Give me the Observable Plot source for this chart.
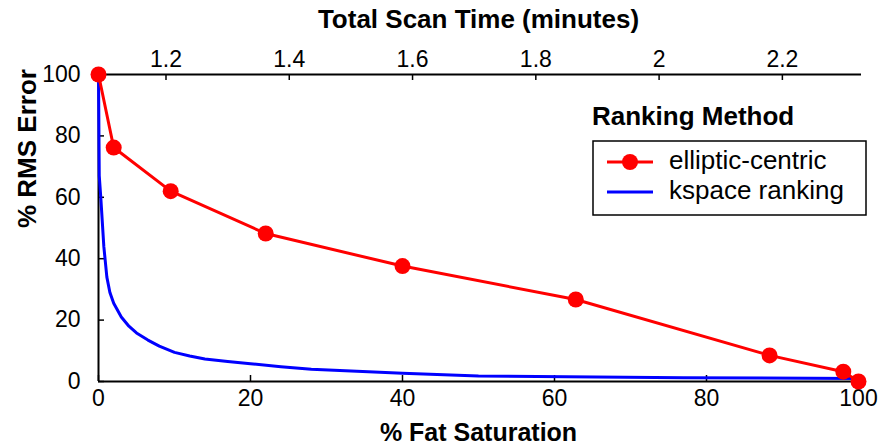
<!DOCTYPE html>
<html>
<head>
<meta charset="utf-8">
<script src="https://cdn.jsdelivr.net/npm/d3@7"></script>
<script src="https://cdn.jsdelivr.net/npm/@observablehq/plot@0.6"></script>
<style>
  html, body { margin: 0; padding: 0; background: #fff; }
  #wrap { position: relative; width: 885px; height: 448px; font-family: "Liberation Sans", Arial, sans-serif; }
  #legend { position: absolute; left: 0; top: 0; pointer-events: none; }
</style>
</head>
<body>
<div id="wrap"><div id="chart"></div><svg id="legend" width="885" height="448"></svg></div>
<script>
// ---- data ----
const ellipticX = [0, 2, 9.5, 22, 40, 62.8, 88.3, 98, 100];
const ellipticY = [100, 76.2, 62, 48.2, 37.6, 26.7, 8.5, 3.2, 0];

const kspaceX = [0, 0.1, 0.3, 0.5, 0.7, 1.1, 1.5, 2, 3, 4, 5, 6.5, 8, 10, 12, 14, 17, 20, 24, 28, 34, 40, 50, 77, 100];
const kspaceY = [100, 67, 60, 52, 44, 34, 29, 25.5, 21, 18, 15.8, 13.5, 11.5, 9.5, 8.3, 7.3, 6.5, 5.8, 4.8, 4.0, 3.3, 2.7, 1.8, 1.2, 1.0];

const xTicks = [0, 20, 40, 60, 80, 100];
const yTicks = [0, 20, 40, 60, 80, 100];
const topTicks = [1.2, 1.4, 1.6, 1.8, 2, 2.2];
const topDomain = [1.0905, 2.3235];

const seriesNames = ["elliptic-centric", "kspace ranking"];
const seriesColors = ["#ff0000", "#0000ff"];
const legendTitle = "Ranking Method";
const xLabel = "% Fat Saturation";
const yLabel = "% RMS Error";
const topLabel = "Total Scan Time (minutes)";

// ---- build ----
const elliptic = ellipticX.map((x, i) => ({x, y: ellipticY[i]}));
const kspace = kspaceX.map((x, i) => ({x, y: kspaceY[i]}));
const timeToFat = d3.scaleLinear().domain(topDomain).range([0, 100]);
const topTickPos = topTicks.map(t => timeToFat(t));

const W = 885, H = 448, mT = 74, mB = 67, mL = 98, mR = 27;
const plotW = W - mL - mR, plotH = H - mT - mB;
const tickLen = 6;
const font = "Liberation Sans, Arial, sans-serif";

const chart = Plot.plot({
  width: W, height: H,
  marginTop: mT, marginBottom: mB, marginLeft: mL, marginRight: mR,
  style: {fontFamily: font, background: "#fff", color: "#000"},
  x: {domain: [0, 100]},
  y: {domain: [0, 100]},
  marks: [
    // axis tick labels
    Plot.axisX(xTicks, {anchor: "bottom", tickSize: 0, tickPadding: 8, fontSize: 23, label: null, tickFormat: d => String(d)}),
    Plot.axisY(yTicks, {anchor: "left", tickSize: 0, tickPadding: 18, fontSize: 23, label: null, tickFormat: d => String(d)}),
    Plot.axisX(topTickPos, {anchor: "top", tickSize: 0, tickPadding: 8, fontSize: 23, label: null,
      tickFormat: (d, i) => String(topTicks[i])}),
    // inward ticks
    Plot.ruleX(xTicks, {x: d => d, insetTop: plotH - tickLen, stroke: "#000", strokeWidth: 1.5}),
    Plot.ruleY(yTicks, {y: d => d, insetRight: plotW - tickLen, stroke: "#000", strokeWidth: 1.5}),
    Plot.ruleX(topTickPos, {x: d => d, insetBottom: plotH - tickLen, stroke: "#000", strokeWidth: 1.5}),
    // axis lines
    Plot.ruleY([0], {stroke: "#000", strokeWidth: 2}),
    Plot.ruleY([100], {stroke: "#000", strokeWidth: 2, insetRight: -3}),
    Plot.ruleX([0], {stroke: "#000", strokeWidth: 2}),
    // titles
    Plot.text([topLabel], {frameAnchor: "top", dy: -55, text: d => d, fontSize: 26, fontWeight: "bold", lineAnchor: "middle", fill: "#000"}),
    Plot.text([xLabel], {frameAnchor: "bottom", dy: 51, text: d => d, fontSize: 25, fontWeight: "bold", lineAnchor: "middle", fill: "#000"}),
    Plot.text([yLabel], {frameAnchor: "left", dx: -71, rotate: -90, text: d => d, fontSize: 26, fontWeight: "bold", lineAnchor: "middle", fill: "#000"}),
    // data
    Plot.line(kspace, {x: "x", y: "y", stroke: seriesColors[1], strokeWidth: 3}),
    Plot.line(elliptic, {x: "x", y: "y", stroke: seriesColors[0], strokeWidth: 3}),
    Plot.dot(elliptic, {x: "x", y: "y", r: 8, fill: seriesColors[0], stroke: "none"})
  ]
});
document.getElementById("chart").appendChild(chart);

// ---- legend ----
const lg = d3.select("#legend");
lg.append("text").attr("x", 592).attr("y", 118).attr("dominant-baseline", "middle")
  .attr("font-family", font).attr("font-size", 26).attr("font-weight", "bold").attr("fill", "#000").text(legendTitle);
lg.append("rect").attr("x", 593).attr("y", 141).attr("width", 273).attr("height", 74)
  .attr("fill", "#fff").attr("stroke", "#000").attr("stroke-width", 1.5);
const rowsY = [162, 192];
seriesNames.forEach((name, i) => {
  const g = lg.append("g");
  g.append("line").attr("x1", 607).attr("x2", 653).attr("y1", rowsY[i]).attr("y2", rowsY[i])
    .attr("stroke", seriesColors[i]).attr("stroke-width", 3);
  if (i === 0) g.append("circle").attr("cx", 630).attr("cy", rowsY[i]).attr("r", 8).attr("fill", seriesColors[i]);
  g.append("text").attr("x", 669).attr("y", rowsY[i]).attr("dominant-baseline", "middle")
    .attr("font-family", font).attr("font-size", 26).attr("fill", "#000").text(name);
});
</script>
</body>
</html>
